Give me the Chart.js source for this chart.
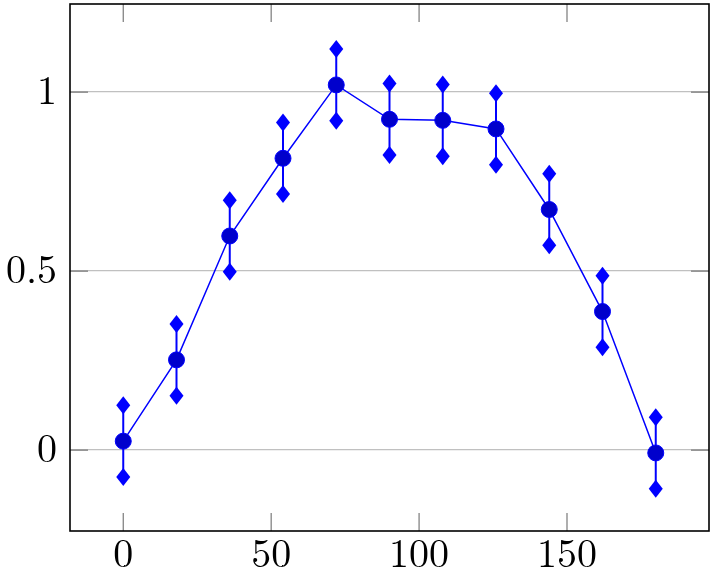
<!DOCTYPE html>
<html>
<head>
<meta charset="utf-8">
<script src="https://cdn.jsdelivr.net/npm/chart.js@4"></script>
<style>
  html, body { margin: 0; padding: 0; background: #fff; }
  #c { display: block; }
</style>
</head>
<body>
<canvas id="c" width="716" height="578"></canvas>
<script>
// values
const xValues = [0, 18, 36, 54, 72, 90, 108, 126, 144, 162, 180];
const yValues = [0.025, 0.252, 0.598, 0.815, 1.02, 0.924, 0.921, 0.897, 0.672, 0.387, -0.008];
const yErrors = [0.1, 0.1, 0.1, 0.1, 0.1, 0.1, 0.1, 0.1, 0.1, 0.1, 0.1];
const xTicks = [0, 50, 100, 150];
const yTicks = [0, 0.5, 1];

const FONT = '"Latin Modern Roman", "Liberation Serif", "DejaVu Serif", serif';

// error bars with diamond ends, drawn under the circles
const errorBars = {
  id: 'errorBars',
  beforeDatasetsDraw(chart) {
    const {ctx, scales: {x, y}} = chart;
    ctx.save();
    ctx.strokeStyle = '#0000ff';
    ctx.fillStyle = '#0000ff';
    ctx.lineWidth = 2;
    xValues.forEach((xv, i) => {
      const px = x.getPixelForValue(xv);
      const top = y.getPixelForValue(yValues[i] + yErrors[i]);
      const bot = y.getPixelForValue(yValues[i] - yErrors[i]);
      ctx.beginPath();
      ctx.moveTo(px, top);
      ctx.lineTo(px, bot);
      ctx.stroke();
      [top, bot].forEach(py => {
        ctx.beginPath();
        ctx.moveTo(px, py - 9);
        ctx.lineTo(px + 7, py);
        ctx.lineTo(px, py + 9);
        ctx.lineTo(px - 7, py);
        ctx.closePath();
        ctx.fill();
      });
    });
    ctx.restore();
  }
};

// frame and inward tick marks like pgfplots
const frame = {
  id: 'frame',
  beforeDatasetsDraw(chart) {
    const {ctx, chartArea: a, scales: {x, y}} = chart;
    ctx.save();
    ctx.strokeStyle = '#7a7a7a';
    ctx.lineWidth = 1.2;
    const len = 18;
    xTicks.forEach(v => {
      const px = x.getPixelForValue(v);
      ctx.beginPath();
      ctx.moveTo(px, a.bottom); ctx.lineTo(px, a.bottom - len);
      ctx.moveTo(px, a.top); ctx.lineTo(px, a.top + len);
      ctx.stroke();
    });
    yTicks.forEach(v => {
      const py = y.getPixelForValue(v);
      ctx.beginPath();
      ctx.moveTo(a.left, py); ctx.lineTo(a.left + len, py);
      ctx.moveTo(a.right, py); ctx.lineTo(a.right - len, py);
      ctx.stroke();
    });
    ctx.restore();
  },
  afterDraw(chart) {
    const {ctx, chartArea: a} = chart;
    ctx.save();
    ctx.strokeStyle = '#000';
    ctx.lineWidth = 1.6;
    ctx.strokeRect(a.left, a.top, a.right - a.left, a.bottom - a.top);
    ctx.restore();
  }
};

new Chart(document.getElementById('c'), {
  type: 'line',
  data: {
    datasets: [{
      data: xValues.map((xv, i) => ({x: xv, y: yValues[i]})),
      borderColor: '#0000ff',
      borderWidth: 1.5,
      pointRadius: 8,
      pointBackgroundColor: '#0000cc',
      pointBorderColor: '#0000ff',
      pointBorderWidth: 1,
      tension: 0,
      fill: false
    }]
  },
  options: {
    responsive: false,
    animation: false,
    devicePixelRatio: 1,
    layout: {autoPadding: false, padding: {left: 0, right: 7, top: 4, bottom: 0}},
    plugins: {legend: {display: false}, tooltip: {enabled: false}},
    scales: {
      x: {
        type: 'linear',
        min: -18,
        max: 198,
        afterBuildTicks: s => { s.ticks = xTicks.map(v => ({value: v})); },
        afterFit: s => { s.height = 47; s.paddingLeft = 0; s.paddingRight = 0; },
        grid: {display: false},
        border: {display: false},
        ticks: {
          color: '#000',
          padding: -8,
          maxRotation: 0,
          font: {family: FONT, size: 40},
          callback: v => String(v)
        }
      },
      y: {
        type: 'linear',
        min: -0.226,
        max: 1.246,
        afterBuildTicks: s => { s.ticks = yTicks.map(v => ({value: v})); },
        afterFit: s => { s.width = 70; s.paddingTop = 0; s.paddingBottom = 0; },
        grid: {color: '#c0c0c0', lineWidth: 1.3, drawTicks: false},
        border: {display: false},
        ticks: {
          color: '#000',
          padding: 13,
          font: {family: FONT, size: 40},
          callback: v => String(v)
        }
      }
    }
  },
  plugins: [errorBars, frame]
});
</script>
</body>
</html>
